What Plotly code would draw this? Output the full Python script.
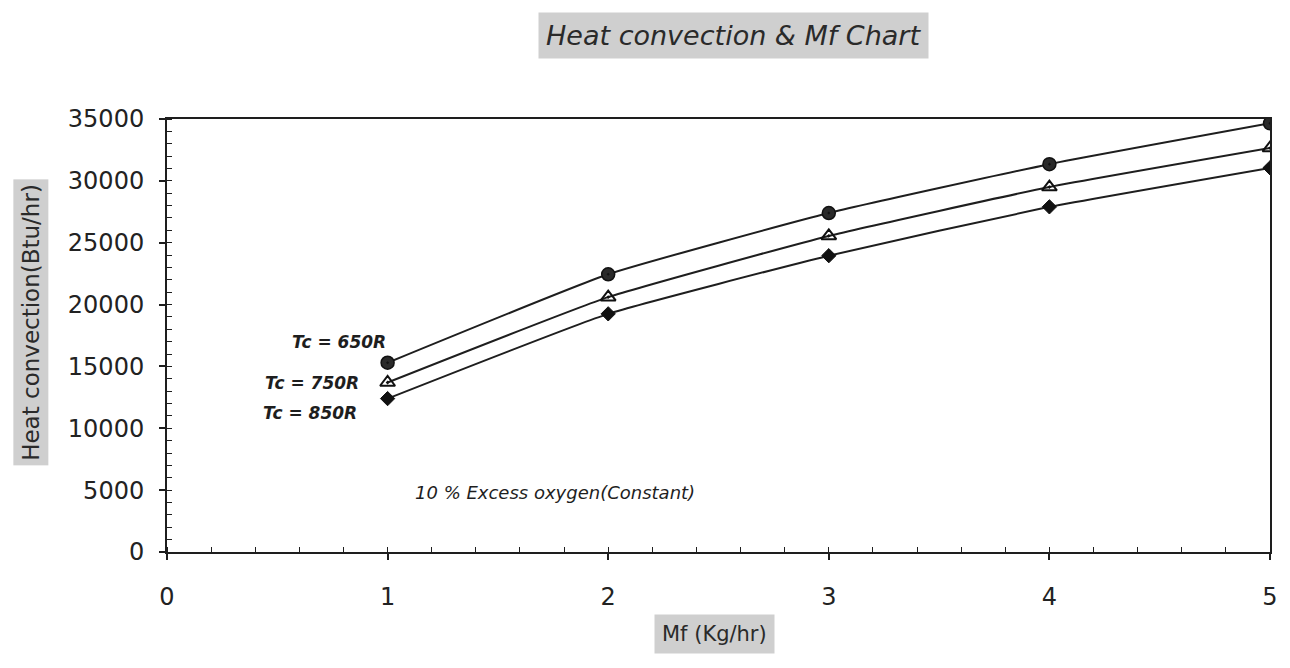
import plotly.graph_objects as go

mf = [1, 2, 3, 4, 5]
tc650 = [15300, 22450, 27400, 31350, 34650]
tc750 = [13700, 20600, 25550, 29500, 32650]
tc850 = [12400, 19250, 23950, 27900, 31050]
series_names = ["Tc = 650R", "Tc = 750R", "Tc = 850R"]
x_ticks = [0, 1, 2, 3, 4, 5]
y_ticks = [0, 5000, 10000, 15000, 20000, 25000, 30000, 35000]

FONT = "DejaVu Sans"
INK = "#1e1e1e"

fig = go.Figure()
styles = [
    dict(symbol="circle-dot", size=13, color="#2a2a2a", line=dict(color="#111", width=1.5)),
    dict(symbol="triangle-up-open-dot", size=13, color="#111", line=dict(color="#111", width=2)),
    dict(symbol="diamond", size=11, color="#111", line=dict(color="#111", width=1)),
]
for name, ys, st in zip(series_names, [tc650, tc750, tc850], styles):
    fig.add_trace(go.Scatter(
        x=mf, y=ys, mode="lines+markers", name=name,
        line=dict(color=INK, width=2, shape="spline", smoothing=0.4),
        marker=st, showlegend=False,
    ))

# series labels
lab_font = dict(family=FONT, size=17, color=INK, weight="bold")
fig.add_annotation(x=1.0, y=17000, text="<i>Tc = 650R</i>", showarrow=False,
                   xanchor="right", yanchor="middle", font=lab_font)
fig.add_annotation(x=0.88, y=13650, text="<i>Tc = 750R</i>", showarrow=False,
                   xanchor="right", yanchor="middle", font=lab_font)
fig.add_annotation(x=0.87, y=11250, text="<i>Tc = 850R</i>", showarrow=False,
                   xanchor="right", yanchor="middle", font=lab_font)
fig.add_annotation(x=1.76, y=4800, text="<i>10 % Excess oxygen(Constant)</i>", showarrow=False,
                   xanchor="center", yanchor="middle",
                   font=dict(family=FONT, size=18, color=INK))

# title with stippled-gray background
fig.add_annotation(xref="paper", yref="paper", x=(737 - 167) / 1110, y=1 + (119 - 36) / 433,
                   text="<i>Heat convection &amp; Mf Chart</i>", showarrow=False,
                   xanchor="center", yanchor="middle",
                   bgcolor="#cfcfcf", borderpad=7,
                   font=dict(family=FONT, size=27, color="#2a2a2a"))
# y-axis title
fig.add_annotation(xref="paper", yref="paper", x=(30 - 167) / 1110, y=(552 - 322) / 433,
                   text="Heat convection(Btu/hr)", textangle=-90, showarrow=False,
                   xanchor="center", yanchor="middle",
                   bgcolor="#cfcfcf", borderpad=4,
                   font=dict(family=FONT, size=23, color="#2a2a2a"))
# x-axis title
fig.add_annotation(xref="paper", yref="paper", x=(718 - 167) / 1110, y=-(634 - 552) / 433,
                   text="Mf (Kg/hr)", showarrow=False,
                   xanchor="center", yanchor="middle",
                   bgcolor="#cfcfcf", borderpad=7,
                   font=dict(family=FONT, size=21, color="#2a2a2a"))

fig.update_xaxes(
    range=[0, 5], tickvals=x_ticks, ticktext=[str(v) for v in x_ticks],
    showgrid=False, zeroline=False, showline=True, linecolor=INK, linewidth=2, mirror=True,
    ticks="outside", ticklen=6, tickcolor=INK, tickwidth=1.5,
    ticklabelstandoff=16,
    minor=dict(dtick=0.2, ticks="inside", ticklen=5, tickcolor=INK, tickwidth=1),
    tickfont=dict(family=FONT, size=24, color="#222"),
)
fig.update_yaxes(
    range=[0, 35000], tickvals=y_ticks, ticktext=[str(v) for v in y_ticks],
    showgrid=False, zeroline=False, showline=True, linecolor=INK, linewidth=2, mirror=True,
    ticks="outside", ticklen=6, tickcolor=INK, tickwidth=1.5,
    ticklabelstandoff=10,
    minor=dict(dtick=1000, ticks="inside", ticklen=5, tickcolor=INK, tickwidth=1),
    tickfont=dict(family=FONT, size=24, color="#222"),
)

fig.update_layout(
    width=1290, height=668,
    margin=dict(l=167, r=13, t=119, b=116),
    paper_bgcolor="white", plot_bgcolor="white",
)

fig.write_html("out.html")
